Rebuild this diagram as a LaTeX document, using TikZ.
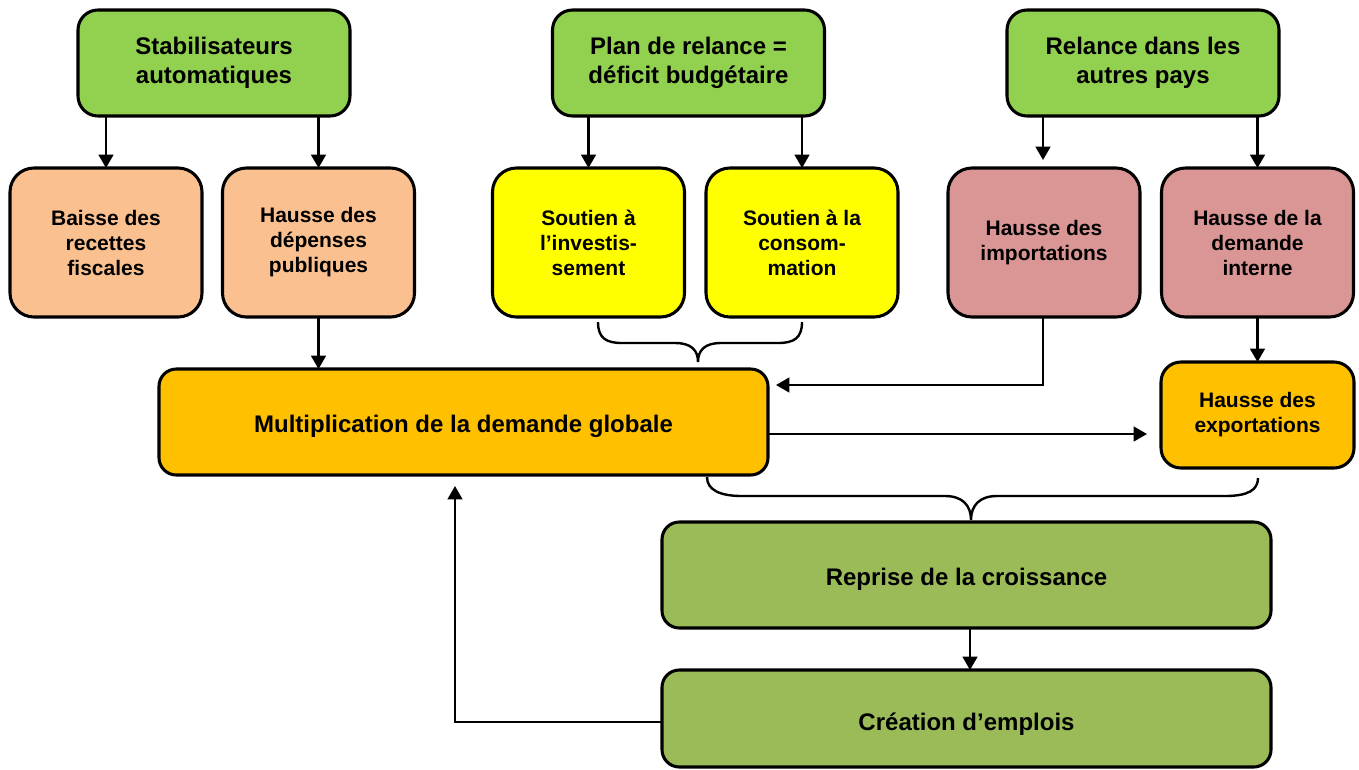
\documentclass[tikz,border=0pt]{standalone}
\usepackage{fontspec}
\setmainfont{Liberation Sans}
\usetikzlibrary{arrows.meta}
\definecolor{cgreen}{HTML}{92D050}
\definecolor{cpeach}{HTML}{FAC090}
\definecolor{cyellow}{HTML}{FFFF00}
\definecolor{cpink}{HTML}{D99694}
\definecolor{corange}{HTML}{FFC000}
\definecolor{colive}{HTML}{9BBB59}
\newcommand{\lowertext}[2]{\raisebox{-#1}[\height][\depth]{#2}}
\begin{document}
\begin{tikzpicture}[x=0.75pt,y=-0.75pt,
  box/.style={draw=black, line width=2.3pt, align=center, inner sep=0pt, outer sep=0pt},
  topbox/.style={box, fill=cgreen, rounded corners=15pt, minimum width=204pt, minimum height=79.5pt,
    font=\bfseries\fontsize{18}{21.75}\selectfont},
  smallbox/.style={box, rounded corners=18pt, minimum width=144pt, minimum height=111.75pt,
    font=\bfseries\fontsize{15.75}{18.75}\selectfont},
  widebox/.style={box, rounded corners=13pt, minimum width=456.75pt, minimum height=79.5pt,
    font=\bfseries\fontsize{18}{21.75}\selectfont},
  arr/.style={line width=1.8pt, -{Triangle[width=11pt,length=10pt]}},
  brace/.style={line width=1.8pt}]
\useasboundingbox (0,0) rectangle (1359,769);
% top row
\node[topbox] (stab) at (214,63) {Stabilisateurs\\automatiques};
\node[topbox] (plan) at (688.5,63) {Plan de relance =\\déficit budgétaire};
\node[topbox] (rel) at (1143,63) {Relance dans les\\autres pays};
% middle row
\node[smallbox, fill=cpeach] (baisse) at (106,242.5) {Baisse des\\recettes\\fiscales};
\node[smallbox, fill=cpeach] (dep) at (318.5,242.5) {Hausse des\\dépenses\\publiques};
\node[smallbox, fill=cyellow] (inv) at (588.5,242.5) {Soutien à\\l’investis-\\sement};
\node[smallbox, fill=cyellow] (cons) at (802,242.5) {Soutien à la\\consom-\\mation};
\node[smallbox, fill=cpink] (imp) at (1044,242.5) {Hausse des\\importations};
\node[smallbox, fill=cpink] (dint) at (1257.5,242.5) {Hausse de la\\demande\\interne};
% lower
\node[widebox, fill=corange] (mult) at (463.5,422) {\lowertext{3pt}{Multiplication de la demande globale}};
\node[smallbox, fill=corange, minimum width=144.75pt, minimum height=79.5pt, rounded corners=15pt] (exp) at (1257.5,415) {Hausse des\\exportations};
\node[widebox, fill=colive] (rep) at (966.5,575) {\lowertext{3pt}{Reprise de la croissance}};
\node[widebox, fill=colive, minimum height=72.75pt] (cre) at (966.5,718.5) {\lowertext{4.5pt}{Création d’emplois}};
% arrows from top row
\draw[arr] (baisse.north |- stab.south) -- (baisse.north);
\draw[arr] (dep.north |- stab.south) -- (dep.north);
\draw[arr] (inv.north |- plan.south) -- (inv.north);
\draw[arr] (cons.north |- plan.south) -- (cons.north);
\coordinate (impend) at (1043,160);
\draw[arr] (rel.south -| impend) -- (impend);
\draw[arr] (dint.north |- rel.south) -- (dint.north);
% middle to lower
\draw[arr] (dep.south) -- (dep.south |- mult.north);
\coordinate (imptip) at (776,385);
\draw[arr] (imp.south -| 1043,0) |- (imptip);
\coordinate (exptip) at (1147,434);
\draw[arr] (mult.east |- exptip) -- (exptip);
\draw[arr] (dint.south) -- (exp.north);
\draw[arr] (rep.south -| 970,0) -- (cre.north -| 970,0);
\coordinate (multtip) at (455,486);
\draw[arr] (cre.west |- 0,722) -| (multtip);
% braces
\draw[brace] (598,322) .. controls (598,338) and (606,343) .. (622,343) -- (675,343)
  .. controls (691,343) and (698,350) .. (698,362)
  .. controls (698,350) and (705,343) .. (721,343) -- (778,343)
  .. controls (794,343) and (802,338) .. (802,322);
\draw[brace] (707,477) .. controls (707,490) and (720,496) .. (742,496) -- (945,496)
  .. controls (962,496) and (971,505) .. (971,520)
  .. controls (971,505) and (980,496) .. (997,496) -- (1225,496)
  .. controls (1248,496) and (1258,490) .. (1258,478);
\end{tikzpicture}
\end{document}
